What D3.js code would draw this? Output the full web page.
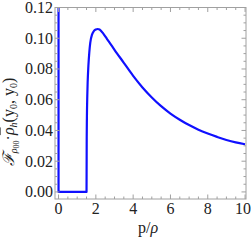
<!DOCTYPE html>
<html>
<head>
<meta charset="utf-8">
<script src="https://cdn.jsdelivr.net/npm/d3@7"></script>
<style>
html,body{margin:0;padding:0;background:#fff;}
svg{display:block;}
</style>
</head>
<body>
<svg id="chart" width="251" height="240"></svg>
<script>
// Data
const xValues = [0, 0, 1.5, 1.5, 1.51, 1.52, 1.54, 1.56, 1.6, 1.65, 1.7, 1.8, 1.9, 2.0, 2.1, 2.2, 2.4, 2.6, 2.8, 3.0, 3.5, 4.0, 4.5, 5.0, 5.5, 6.0, 6.5, 7.0, 7.5, 8.0, 8.5, 9.0, 9.5, 10];
const yValues = [0.14, 0, 0, 0, 0.035, 0.048, 0.062, 0.071, 0.082, 0.091, 0.097, 0.1025, 0.1048, 0.1057, 0.106, 0.1057, 0.103, 0.0995, 0.096, 0.0925, 0.084, 0.0755, 0.068, 0.0615, 0.0558, 0.051, 0.047, 0.0435, 0.0405, 0.038, 0.0358, 0.0338, 0.0322, 0.031];
const xTicks = [0, 2, 4, 6, 8, 10];
const yTicks = [0, 0.02, 0.04, 0.06, 0.08, 0.10, 0.12];
const yTickLabels = ["0.00", "0.02", "0.04", "0.06", "0.08", "0.10", "0.12"];
const xMinorTicks = d3.range(0, 10.01, 0.5);
const yMinorTicks = d3.range(0, 0.1201, 0.005);

const svg = d3.select("#chart");
const L = 55, R = 246, T = 7.5, B = 199;
const x = d3.scaleLinear().domain([-0.19, 10.05]).range([L, R]);
const y = d3.scaleLinear().domain([-0.0046, 0.12]).range([B, T]);

const frameColor = "#a0a0a0";

svg.append("clipPath").attr("id", "clip").append("rect")
  .attr("x", L).attr("y", T).attr("width", R - L).attr("height", B - T);

const pts = xValues.map((v, i) => [v, yValues[i]]);
svg.append("path")
  .datum(pts)
  .attr("clip-path", "url(#clip)")
  .attr("fill", "none")
  .attr("stroke", "#1010ff")
  .attr("stroke-width", 2.2)
  .attr("stroke-linejoin", "round")
  .attr("d", d3.line().x(d => x(d[0])).y(d => y(d[1])).curve(d3.curveMonotoneX));

svg.append("rect").attr("x", L).attr("y", T).attr("width", R - L).attr("height", B - T)
  .attr("fill", "none").attr("stroke", frameColor).attr("stroke-width", 1);

const g = svg.append("g").attr("stroke", frameColor).attr("stroke-width", 1);
xMinorTicks.forEach(v => {
  const major = xTicks.some(t => Math.abs(t - v) < 1e-6);
  const len = major ? 4.5 : 2.5;
  g.append("line").attr("x1", x(v)).attr("x2", x(v)).attr("y1", B).attr("y2", B - len);
  g.append("line").attr("x1", x(v)).attr("x2", x(v)).attr("y1", T).attr("y2", T + len);
});
yMinorTicks.forEach(v => {
  const major = yTicks.some(t => Math.abs(t - v) < 1e-6);
  const len = major ? 4.5 : 2.5;
  g.append("line").attr("y1", y(v)).attr("y2", y(v)).attr("x1", L).attr("x2", L + len);
  g.append("line").attr("y1", y(v)).attr("y2", y(v)).attr("x1", R).attr("x2", R - len);
});

const font = "'Liberation Serif', 'Times New Roman', serif";
svg.append("g").selectAll("text").data(xTicks).join("text")
  .attr("x", d => d === 10 ? 251 : x(d)).attr("y", 214)
  .attr("text-anchor", d => d === 10 ? "end" : "middle")
  .attr("font-family", font).attr("font-size", 16).attr("fill", "#222")
  .text(d => d);
svg.append("g").selectAll("text").data(yTicks).join("text")
  .attr("x", 53).attr("y", d => y(d) + 5.5)
  .attr("text-anchor", "end")
  .attr("font-family", font).attr("font-size", 16).attr("fill", "#222")
  .text((d, i) => yTickLabels[i]);

const xl = svg.append("text").attr("x", 148).attr("y", 233)
  .attr("text-anchor", "middle")
  .attr("font-family", font).attr("font-size", 16).attr("fill", "#222");
xl.append("tspan").text("p/");
xl.append("tspan").attr("font-style", "italic").text("ρ");

const yl = svg.append("text")
  .attr("transform", "translate(14,122) rotate(-90)")
  .attr("text-anchor", "middle")
  .attr("font-family", font).attr("font-size", 16).attr("fill", "#222");
yl.append("tspan").attr("font-style", "italic").text("ℱ");
yl.append("tspan").attr("font-size", 10).attr("font-style", "italic").attr("dy", 3).text("ρ");
yl.append("tspan").attr("font-size", 8).attr("dy", 2).text("00");
yl.append("tspan").attr("dy", -5).text("·");
yl.append("tspan").attr("font-style", "italic").attr("text-decoration", "overline").text("ρ");
yl.append("tspan").attr("font-size", 10).attr("font-style", "italic").attr("dy", 3).text("h");
yl.append("tspan").attr("dy", -3).text("(y");
yl.append("tspan").attr("font-size", 10).attr("dy", 3).text("0");
yl.append("tspan").attr("dy", -3).text(", y");
yl.append("tspan").attr("font-size", 10).attr("dy", 3).text("0");
yl.append("tspan").attr("dy", -3).text(")");
</script>
</body>
</html>
